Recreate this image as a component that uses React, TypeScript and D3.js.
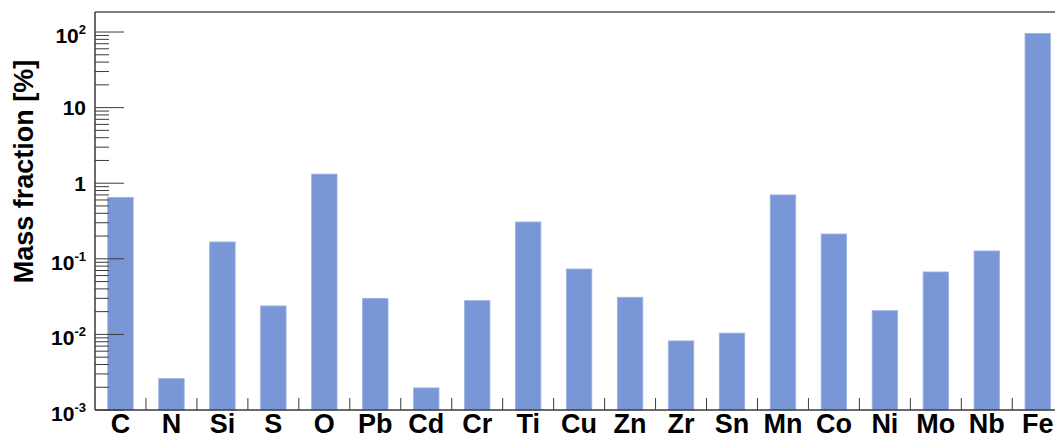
import React, { useEffect, useRef } from 'react';
import * as d3 from 'd3';

// elements and their mass fraction in percent
const elements = ['C', 'N', 'Si', 'S', 'O', 'Pb', 'Cd', 'Cr', 'Ti', 'Cu', 'Zn', 'Zr', 'Sn', 'Mn', 'Co', 'Ni', 'Mo', 'Nb', 'Fe'];
const massFraction = [0.65, 0.0026, 0.167, 0.0238, 1.32, 0.030, 0.00196, 0.0280, 0.307, 0.0733, 0.031, 0.0082, 0.0104, 0.70, 0.213, 0.0206, 0.067, 0.127, 96];

const yTickValues = [1e-3, 1e-2, 1e-1, 1, 10, 100];
const yTickBase = ['10', '10', '10', '1', '10', '10'];
const yTickExp = ['-3', '-2', '-1', '', '', '2'];

const yTitle = 'Mass fraction [%]';

export default function App() {
  const svgRef = useRef<SVGSVGElement>(null);

  useEffect(() => {
    if (!svgRef.current) return;
    const width = 1055;
    const height = 439;
    const left = 95;
    const top = 12;
    const bottom = 410;
    const binW = 50.96;
    const font = 'Liberation Sans, Arial, Helvetica, sans-serif';

    const svg = d3.select(svgRef.current);
    svg.selectAll('*').remove();
    svg.attr('width', width).attr('height', height);

    const x = d3.scaleBand<string>()
      .domain(elements)
      .range([left, left + binW * elements.length])
      .paddingInner(0.5)
      .paddingOuter(0.25);
    const step = x.step();

    const y = d3.scaleLog().domain([1e-3, 184]).range([bottom, top]);

    // bars
    svg.append('g')
      .selectAll('rect')
      .data(elements)
      .join('rect')
      .attr('x', d => x(d)!)
      .attr('width', x.bandwidth())
      .attr('y', (d, i) => y(massFraction[i]))
      .attr('height', (d, i) => bottom - y(massFraction[i]))
      .attr('fill', '#7997d6')
      .attr('stroke', '#9db3e2')
      .attr('stroke-width', 0.8);

    const axisColor = '#3a3a3a';

    // y minor + major ticks (drawn inside the frame, ROOT style)
    const yt = svg.append('g');
    for (let e = -3; e < 2; e++) {
      for (let m = 2; m <= 9; m++) {
        const v = m * Math.pow(10, e);
        yt.append('line')
          .attr('x1', left).attr('x2', left + 14)
          .attr('y1', y(v)).attr('y2', y(v))
          .attr('stroke', axisColor).attr('stroke-width', 1);
      }
    }
    yTickValues.forEach((v, i) => {
      yt.append('line')
        .attr('x1', left).attr('x2', left + 29)
        .attr('y1', y(v)).attr('y2', y(v))
        .attr('stroke', axisColor).attr('stroke-width', 1);
      const t = yt.append('text')
        .attr('x', 86)
        .attr('text-anchor', 'end')
        .attr('font-family', font)
        .attr('font-weight', 'bold')
        .attr('font-size', 21)
        .attr('fill', '#000');
      if (yTickExp[i]) {
        t.attr('y', y(v) + 11);
        t.append('tspan').text(yTickBase[i]);
        t.append('tspan')
          .attr('font-size', 13)
          .attr('dy', -9)
          .text(yTickExp[i]);
      } else {
        t.attr('y', y(v) + 7.5).text(yTickBase[i]);
      }
    });

    // x ticks at bin edges
    elements.slice(1).forEach(d => {
      const xe = x(d)! - step * 0.25;
      svg.append('line')
        .attr('x1', xe).attr('x2', xe)
        .attr('y1', bottom).attr('y2', bottom - 12)
        .attr('stroke', axisColor).attr('stroke-width', 1);
    });

    // x labels
    svg.append('g')
      .selectAll('text')
      .data(elements)
      .join('text')
      .attr('x', d => x(d)! + x.bandwidth() / 2)
      .attr('y', 433)
      .attr('text-anchor', 'middle')
      .attr('font-family', font)
      .attr('font-weight', 'bold')
      .attr('font-size', 27)
      .attr('fill', '#000')
      .text(d => d);

    // frame lines
    svg.append('line')
      .attr('x1', left).attr('x2', width)
      .attr('y1', top).attr('y2', top)
      .attr('stroke', '#555').attr('stroke-width', 1.5);
    svg.append('line')
      .attr('x1', left).attr('x2', left)
      .attr('y1', top).attr('y2', bottom)
      .attr('stroke', axisColor).attr('stroke-width', 1.5);
    svg.append('line')
      .attr('x1', left).attr('x2', width)
      .attr('y1', bottom).attr('y2', bottom)
      .attr('stroke', axisColor).attr('stroke-width', 1.5);

    // y title
    svg.append('text')
      .attr('transform', `translate(33, 171.5) rotate(-90)`)
      .attr('text-anchor', 'middle')
      .attr('font-family', font)
      .attr('font-weight', 'bold')
      .attr('font-size', 27)
      .attr('fill', '#000')
      .text(yTitle);
  }, []);

  return (
    <div style={{ position: 'absolute', left: 0, top: 0, background: '#fff' }}>
      <svg ref={svgRef} style={{ display: 'block' }} />
    </div>
  );
}
